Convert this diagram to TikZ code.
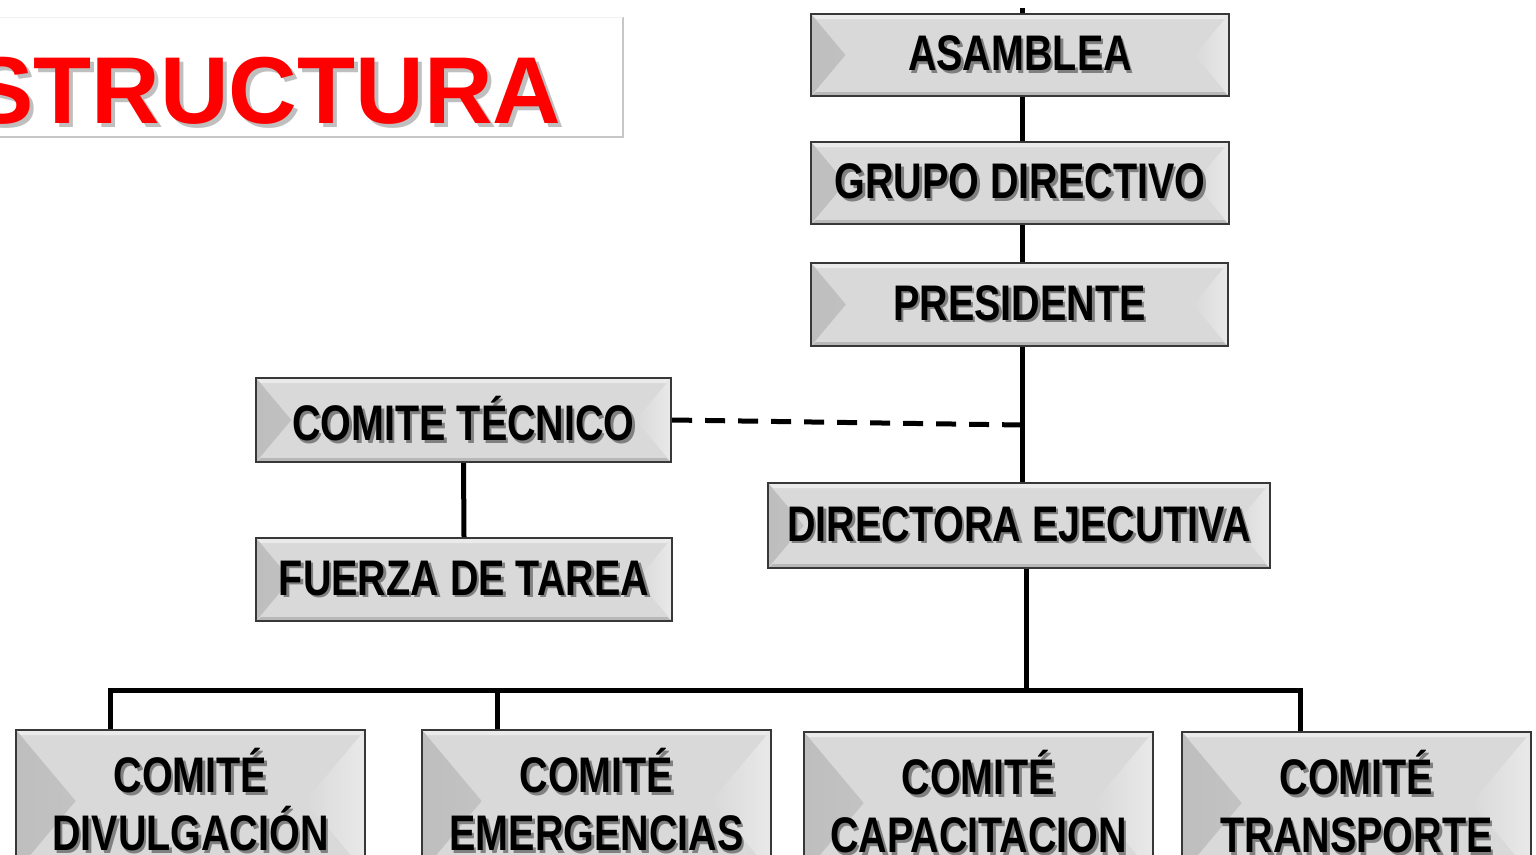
\documentclass[tikz,border=0pt]{standalone}
\usepackage{fontspec}
\setmainfont{Liberation Sans}
\newfontfamily\narrowfont[FakeStretch=0.79]{Liberation Sans}
\usetikzlibrary{calc}
\definecolor{bevmid}{HTML}{D9D9D9}
\definecolor{bevdark}{HTML}{BEBEBE}
\definecolor{bevlight}{HTML}{E9E9E9}
\definecolor{titlered}{HTML}{FF0000}
\newcommand\shl[1]{\rlap{\kern2.5pt\raisebox{-2.5pt}{\textcolor{black!50}{#1}}}#1}
\newcommand\titleshl[1]{\rlap{\kern4pt\raisebox{-4pt}{\textcolor{black!25}{#1}}}\textcolor{titlered}{#1}}
\tikzset{
  bevelbox/.style={draw=black!78, line width=2.2pt, fill=bevmid, inner sep=0pt, align=center,
    font=\narrowfont\bfseries\fontsize{50}{58}\selectfont,
    path picture={
      \shade[left color=bevdark, right color=bevmid] let \p1=(path picture bounding box.north west), \p2=(path picture bounding box.south east), \n1={0.42*(\y1-\y2)} in
        (\x1,\y1) -- (\x1+\n1,\y1/2+\y2/2) -- (\x1,\y2) -- cycle;
      \shade[left color=bevmid, right color=bevlight] let \p1=(path picture bounding box.north west), \p2=(path picture bounding box.south east), \n1={0.42*(\y1-\y2)} in
        (\x2,\y1) -- (\x2-\n1,\y1/2+\y2/2) -- (\x2,\y2) -- cycle;
      \fill[white!92!black] let \p1=(path picture bounding box.north west), \p2=(path picture bounding box.south east) in
        (\x1,\y1) -- (\x2,\y1) -- (\x2-5pt,\y1-5pt) -- (\x1+5pt,\y1-5pt) -- cycle;
      \fill[black!28] let \p1=(path picture bounding box.north west), \p2=(path picture bounding box.south east) in
        (\x1,\y2) -- (\x2,\y2) -- (\x2-5pt,\y2+4pt) -- (\x1+5pt,\y2+4pt) -- cycle;
    }},
  conn/.style={line width=5pt, black},
  dashconn/.style={line width=5pt, black, dash pattern=on 20pt off 13pt}
}
\begin{document}
\begin{tikzpicture}[x=1pt, y=-1pt]
\useasboundingbox (0,0) rectangle (1536,854);
% title
\draw[black!22, line width=1.2pt] (-10,137) -- (623,137) -- (623,17);
\draw[black!6, line width=1pt] (-10,17) -- (623,17);
\node[anchor=base west, font=\bfseries\fontsize{95}{100}\selectfont, inner sep=0pt] (title) at (-30,123) {\titleshl{STRUCTURA}};
% connector end points
\coordinate (top) at (1022,8);
\coordinate (dashend) at (1022,425);
\coordinate (busmid) at (1026,690);
\coordinate (busL) at (110,690);
\coordinate (busE) at (497,690);
\coordinate (busR) at (1300,690);
% boxes
\node[bevelbox, minimum width=418pt, minimum height=82pt] (asam) at (1020,55) {\shl{ASAMBLEA}};
\node[bevelbox, minimum width=418pt, minimum height=82pt] (grupo) at (1020,183) {\shl{GRUPO DIRECTIVO}};
\node[bevelbox, minimum width=417pt, minimum height=83pt] (pres) at (1019.5,304.5) {\shl{PRESIDENTE}};
\node[bevelbox, minimum width=415pt, minimum height=84pt] (tec) at (463.5,420) {\shl{COMITE TÉCNICO}};
\node[bevelbox, minimum width=416pt, minimum height=83pt] (fuerza) at (464,579.5) {\shl{FUERZA DE TAREA}};
\node[bevelbox, minimum width=502pt, minimum height=85pt] (dir) at (1019,525.5) {\shl{DIRECTORA EJECUTIVA}};
\node[bevelbox, minimum width=349pt, minimum height=142pt] (div) at (190.5,801) {\shl{COMITÉ}\\\shl{DIVULGACIÓN}};
\node[bevelbox, minimum width=349pt, minimum height=142pt] (emer) at (596.5,801) {\shl{COMITÉ}\\\shl{EMERGENCIAS}};
\node[bevelbox, minimum width=349pt, minimum height=142pt] (cap) at (978.5,803) {\shl{COMITÉ}\\\shl{CAPACITACION}};
\node[bevelbox, minimum width=349pt, minimum height=142pt] (trans) at (1356.5,803) {\shl{COMITÉ}\\\shl{TRANSPORTE}};
% lines
\draw[conn] (top) -- (asam.north -| top);
\draw[conn] (asam.south -| top) -- (grupo.north -| top);
\draw[conn] (grupo.south -| top) -- (pres.north -| top);
\draw[conn] (pres.south -| top) -- (dir.north -| top);
\draw[conn] (dir.south -| busmid) -- (busmid);
\draw[conn, line cap=rect] (busL) -- (busR);
\draw[conn] (busL) -- (busL |- div.north);
\draw[conn] (busE) -- (busE |- emer.north);
\draw[conn] (busR) -- (busR |- trans.north);
\draw[conn] (tec.south) -- (fuerza.north);
\draw[dashconn] (tec.east) -- (dashend);
\end{tikzpicture}
\end{document}
